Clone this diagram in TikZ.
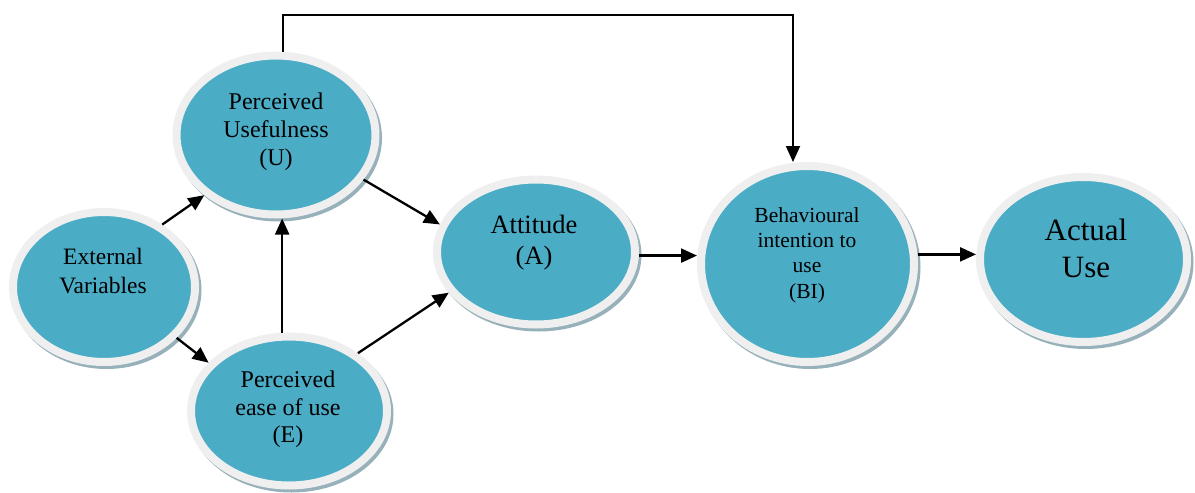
\documentclass[tikz,border=0pt]{standalone}
\usepackage{fontspec}
\setmainfont{Liberation Serif}
\usetikzlibrary{arrows.meta,shapes.geometric}
\definecolor{tealfill}{HTML}{4BACC6}
\definecolor{ringc}{HTML}{EFEFEF}
\definecolor{shadc}{HTML}{97B1BB}
\begin{document}
\begin{tikzpicture}[x=1pt,y=-1pt,
 bub/.style={ellipse, fill=tealfill, draw=ringc, line width=8pt, inner sep=0pt},
 shd/.style={ellipse, fill=shadc, draw=shadc, line width=8pt, inner sep=0pt},
 lbl/.style={align=center, text=black, inner sep=0pt},
 arr/.style={line width=2.3pt, -{Triangle[length=16pt,width=14pt]}},
 arrthin/.style={line width=1.8pt, -{Triangle[length=16pt,width=14pt]}}]
\useasboundingbox (0,0) rectangle (1195,493);
% shadows
\node[shd, minimum width=182pt, minimum height=150pt] (evS) at (106.5,290) {};
\node[shd, minimum width=199pt, minimum height=159pt] (puS) at (278.5,138) {};
\node[shd, minimum width=196pt, minimum height=149pt] (peS) at (291.5,414) {};
\node[shd, minimum width=198pt, minimum height=145pt] (aS) at (538.5,255) {};
\node[shd, minimum width=213pt, minimum height=196pt] (biS) at (810,267) {};
\node[shd, minimum width=207pt, minimum height=165pt] (auS) at (1086,262.5) {};
% bubbles
\node[bub, minimum width=182pt, minimum height=150pt] (ev) at (104,287) {};
\node[bub, minimum width=199pt, minimum height=159pt] (pu) at (276,135) {};
\node[bub, minimum width=196pt, minimum height=149pt] (pe) at (289,411) {};
\node[bub, minimum width=198pt, minimum height=145pt] (a) at (536,252) {};
\node[bub, minimum width=213pt, minimum height=196pt] (bi) at (807.5,264) {};
\node[bub, minimum width=207pt, minimum height=165pt] (au) at (1083.5,259.5) {};
% labels
\node[lbl, font=\fontsize{23.5}{28.5}\selectfont] (evT) at (103,271) {External\\Variables};
\node[lbl, font=\fontsize{24}{28}\selectfont] (puT) at (276,131.5) {Perceived\\Usefulness\\(U)};
\node[lbl, font=\fontsize{24}{27.5}\selectfont] (peT) at (288,409.5) {Perceived\\ease of use\\(E)};
\node[lbl, font=\fontsize{26.5}{31}\selectfont] (aT) at (534,242.5) {Attitude\\(A)};
\node[lbl, font=\fontsize{21.5}{25.3}\selectfont] (biT) at (807,255) {Behavioural\\intention to\\use\\(BI)};
\node[lbl, font=\fontsize{31}{37.5}\selectfont] (auT) at (1086,248.5) {Actual\\Use};
% connectors
\draw[arr] (ev.47) -- (pu.220);
\draw[arr] (ev.-35) -- (pe.149);
\draw[arr] (pe.95) -- (pe.95 |- pu.south);
\draw[arr] (pu.-27) -- (a.164);
\draw[arr] (pe.40) -- (a.205);
\draw[arr] (a.-2) -- (a.-2 -| bi.west);
\draw[arr] (bi.5) -- (bi.5 -| au.west);
\coordinate (tr) at (793,15);
\draw[arrthin] (pu.85) |- (tr) -- (tr |- bi.north);
\end{tikzpicture}
\end{document}
